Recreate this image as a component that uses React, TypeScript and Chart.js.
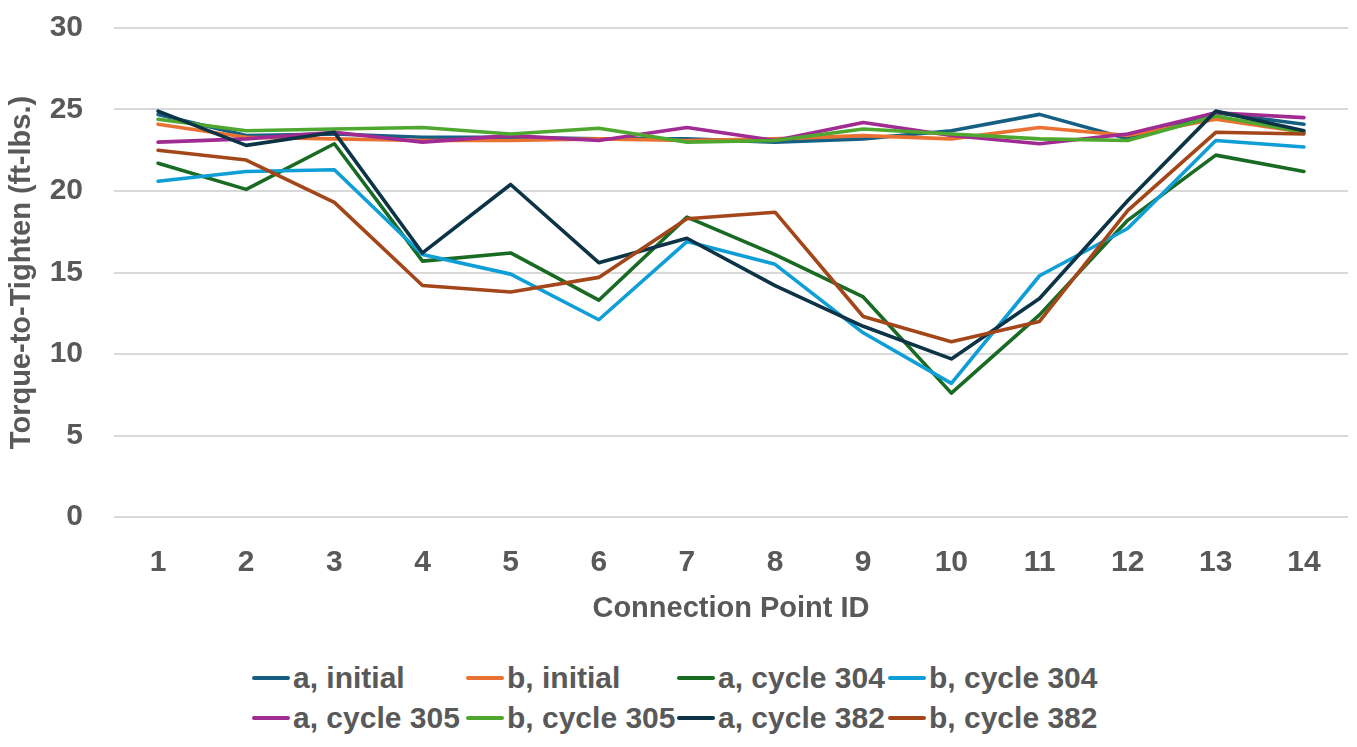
import React, { useEffect, useRef } from "react";
import { Chart, registerables } from "chart.js";

Chart.register(...registerables);

// ---- Data ----
const categories = ["1", "2", "3", "4", "5", "6", "7", "8", "9", "10", "11", "12", "13", "14"];

const aInitial = [24.7, 23.4, 23.5, 23.3, 23.3, 23.2, 23.2, 23.0, 23.2, 23.7, 24.7, 23.2, 24.8, 24.1];
const bInitial = [24.1, 23.3, 23.2, 23.1, 23.1, 23.2, 23.1, 23.2, 23.4, 23.2, 23.9, 23.4, 24.4, 23.6];
const aCycle304 = [21.7, 20.1, 22.9, 15.7, 16.2, 13.3, 18.4, 16.1, 13.5, 7.6, 12.4, 18.2, 22.2, 21.2];
const bCycle304 = [20.6, 21.2, 21.3, 16.1, 14.9, 12.1, 16.9, 15.5, 11.3, 8.2, 14.8, 17.7, 23.1, 22.7];
const aCycle305 = [23.0, 23.2, 23.6, 23.0, 23.4, 23.1, 23.9, 23.1, 24.2, 23.4, 22.9, 23.5, 24.8, 24.5];
const bCycle305 = [24.4, 23.7, 23.8, 23.9, 23.5, 23.85, 23.0, 23.1, 23.8, 23.5, 23.2, 23.1, 24.6, 23.6];
const aCycle382 = [24.9, 22.8, 23.6, 16.2, 20.4, 15.6, 17.1, 14.2, 11.7, 9.7, 13.4, 19.4, 24.9, 23.7];
const bCycle382 = [22.5, 21.9, 19.3, 14.2, 13.8, 14.7, 18.3, 18.7, 12.3, 10.75, 12.0, 18.8, 23.6, 23.5];

const seriesNames = [
  "a, initial",
  "b, initial",
  "a, cycle 304",
  "b, cycle 304",
  "a, cycle 305",
  "b, cycle 305",
  "a, cycle 382",
  "b, cycle 382",
];
const seriesValues = [aInitial, bInitial, aCycle304, bCycle304, aCycle305, bCycle305, aCycle382, bCycle382];
const seriesColors = ["#156082", "#E97132", "#196B24", "#0F9ED5", "#A02B93", "#4EA72E", "#0C3446", "#A3471A"];

const yTicks = { min: 0, max: 30, step: 5 };
const xTitle = "Connection Point ID";
const yTitle = "Torque-to-Tighten (ft-lbs.)";

const FONT = "'Liberation Sans', Arial, sans-serif";
const TEXT = "#595959";
const CANVAS_W = 1357;
const CANVAS_H = 640;

export default function App() {
  const ref = useRef<HTMLCanvasElement | null>(null);

  useEffect(() => {
    if (!ref.current) return;
    const chart = new Chart(ref.current, {
      type: "line",
      data: {
        labels: categories,
        datasets: seriesValues.map((d, i) => ({
          label: seriesNames[i],
          data: d,
          borderColor: seriesColors[i],
          backgroundColor: seriesColors[i],
          borderWidth: 3.6,
          pointRadius: 0,
          pointHoverRadius: 0,
          tension: 0,
          fill: false,
          borderJoinStyle: "round" as const,
          borderCapStyle: "round" as const,
          order: seriesValues.length - 1 - i,
        })),
      },
      options: {
        animation: false,
        responsive: false,
        maintainAspectRatio: false,
        layout: { padding: { top: 28, right: 9, left: 0, bottom: 0 } },
        plugins: {
          legend: { display: false },
          tooltip: { enabled: false },
        },
        scales: {
          x: {
            offset: true,
            grid: { display: false },
            border: { display: false },
            ticks: {
              font: { family: FONT, size: 30, weight: "bold" },
              color: TEXT,
              padding: 20,
            },
            title: {
              display: true,
              text: xTitle,
              font: { family: FONT, size: 29, weight: "bold" },
              color: TEXT,
              padding: { top: 0, bottom: 14 },
            },
            afterFit: (s: any) => {
              s.height = CANVAS_H - 517;
            },
          },
          y: {
            min: yTicks.min,
            max: yTicks.max,
            ticks: {
              stepSize: yTicks.step,
              font: { family: FONT, size: 30, weight: "bold" },
              color: TEXT,
              padding: 31,
            },
            grid: { color: "#d9d9d9", lineWidth: 2, drawTicks: false },
            border: { display: false },
            title: {
              display: true,
              text: yTitle,
              font: { family: FONT, size: 29, weight: "bold" },
              color: TEXT,
              padding: { top: 5, bottom: 0 },
            },
            afterFit: (s: any) => {
              s.width = 114;
              s.paddingTop = 0;
              s.paddingBottom = 0;
            },
          },
        },
      },
    });
    return () => chart.destroy();
  }, []);

  const colLeft = [252, 466, 677, 888];
  const rowCenter = [678, 718];

  return (
    <div style={{ position: "absolute", left: 0, top: 0, width: CANVAS_W, height: 747, background: "#fff", overflow: "hidden" }}>
      <canvas ref={ref} width={CANVAS_W} height={CANVAS_H} style={{ display: "block", width: CANVAS_W, height: CANVAS_H }} />
      {seriesNames.map((name, i) => {
        const row = Math.floor(i / 4);
        const col = i % 4;
        return (
          <div
            key={name}
            style={{
              position: "absolute",
              left: colLeft[col],
              top: rowCenter[row] - 20,
              height: 40,
              display: "flex",
              alignItems: "center",
              whiteSpace: "nowrap",
            }}
          >
            <span style={{ display: "inline-block", width: 38, height: 4, borderRadius: 2, background: seriesColors[i] }} />
            <span style={{ marginLeft: 3, fontFamily: FONT, fontWeight: "bold", fontSize: 30, color: TEXT, lineHeight: "40px" }}>{name}</span>
          </div>
        );
      })}
    </div>
  );
}
